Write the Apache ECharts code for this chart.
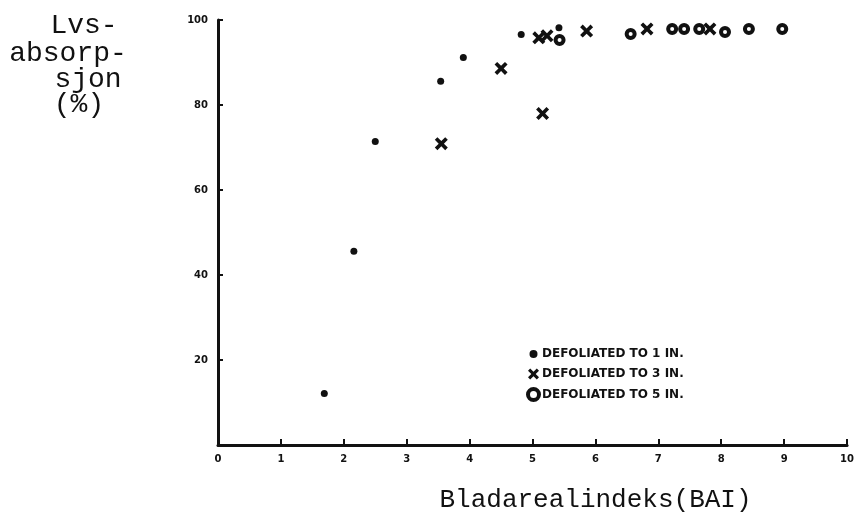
<!DOCTYPE html>
<html>
<head>
<meta charset="utf-8">
<script src="https://cdn.jsdelivr.net/npm/echarts@6/dist/echarts.min.js"></script>
<style>
  html, body { margin: 0; padding: 0; background: #fff; }
  #chart { width: 857px; height: 518px; }
</style>
</head>
<body>
<div id="chart"></div>
<script>
// BAI vs light absorption
const xTicks = [0, 1, 2, 3, 4, 5, 6, 7, 8, 9, 10];
const yTicks = [20, 40, 60, 80, 100];
const seriesNames = ['DEFOLIATED TO 1 IN.', 'DEFOLIATED TO 3 IN.', 'DEFOLIATED TO 5 IN.'];

const defol1 = [[1.69, 12.1], [2.16, 45.6], [2.50, 71.4], [3.54, 85.6], [3.90, 91.2], [4.82, 96.6], [5.42, 98.2]];
const defol3 = [[3.55, 70.9], [4.50, 88.6], [5.16, 78], [5.10, 95.8], [5.23, 96.3], [5.86, 97.4], [6.82, 97.9], [7.82, 97.9]];
const defol5 = [[5.43, 95.3], [6.56, 96.7], [7.22, 97.9], [7.41, 97.9], [7.65, 97.9], [8.06, 97.2], [8.44, 97.9], [8.97, 97.9]];

const crossPath = 'path://M0,2L2,0L5,3L8,0L10,2L7,5L10,8L8,10L5,7L2,10L0,8L3,5Z';
const mono = '"Liberation Mono", "DejaVu Sans Mono", monospace';
const yNameStyle = { align: 'center', fontFamily: mono, fontSize: 28, fill: '#111' };

const chart = echarts.init(document.getElementById('chart'));
chart.setOption({
  animation: false,
  backgroundColor: '#fff',
  grid: { left: 218, right: 6, top: 20, bottom: 69 },
  xAxis: {
    type: 'value', min: 0, max: 10, interval: 1,
    name: 'Bladarealindeks(BAI)',
    nameLocation: 'middle', nameGap: 42,
    nameTextStyle: { fontFamily: mono, fontSize: 26, color: '#111', padding: [0, 0, 0, 126] },
    axisLine: { lineStyle: { color: '#111', width: 3 } },
    axisTick: { inside: true, length: 6, lineStyle: { color: '#111', width: 2 } },
    axisLabel: {
      margin: 9, color: '#111', fontSize: 10, fontWeight: 'bold', fontFamily: 'DejaVu Sans',
      formatter: v => xTicks.includes(v) ? String(v) : ''
    },
    splitLine: { show: false }
  },
  yAxis: {
    type: 'value', min: 0, max: 100, interval: 20,
    axisLine: { onZero: false, lineStyle: { color: '#111', width: 3 } },
    axisTick: { inside: true, length: 5, lineStyle: { color: '#111', width: 2 } },
    axisLabel: {
      margin: 10, color: '#111', fontSize: 10, fontWeight: 'bold', fontFamily: 'DejaVu Sans',
      formatter: v => yTicks.includes(v) ? String(v) : ''
    },
    splitLine: { show: false }
  },
  legend: {
    orient: 'vertical', left: 521, top: 342,
    itemWidth: 11, itemHeight: 11, itemGap: 7,
    textStyle: { fontFamily: 'DejaVu Sans', fontWeight: 'bold', fontSize: 12, color: '#111', padding: [0, 0, 0, -2] },
    data: [
      { name: seriesNames[0], icon: 'circle', itemStyle: { color: '#111', borderWidth: 3, borderColor: '#fff' } },
      { name: seriesNames[1], icon: crossPath },
      { name: seriesNames[2], icon: 'circle', itemStyle: { color: '#fff', borderColor: '#111', borderWidth: 4 } }
    ]
  },
  graphic: [
    { type: 'text', x: 84, y: 12, style: Object.assign({ text: 'Lvs-' }, yNameStyle) },
    { type: 'text', x: 68, y: 40, style: Object.assign({ text: 'absorp-' }, yNameStyle) },
    { type: 'text', x: 88, y: 66, style: Object.assign({ text: 'sjon' }, yNameStyle) },
    { type: 'text', x: 79, y: 91, style: Object.assign({ text: '(%)' }, yNameStyle) }
  ],
  series: [
    {
      name: seriesNames[0], type: 'scatter', data: defol1,
      symbol: 'circle', symbolSize: 7,
      itemStyle: { color: '#111', opacity: 1 }
    },
    {
      name: seriesNames[1], type: 'scatter', data: defol3,
      symbol: crossPath, symbolSize: 13,
      itemStyle: { color: '#111', opacity: 1 }
    },
    {
      name: seriesNames[2], type: 'scatter', data: defol5,
      symbol: 'circle', symbolSize: 8,
      itemStyle: { color: '#fff', borderColor: '#111', borderWidth: 4, opacity: 1 }
    }
  ]
});
</script>
</body>
</html>
